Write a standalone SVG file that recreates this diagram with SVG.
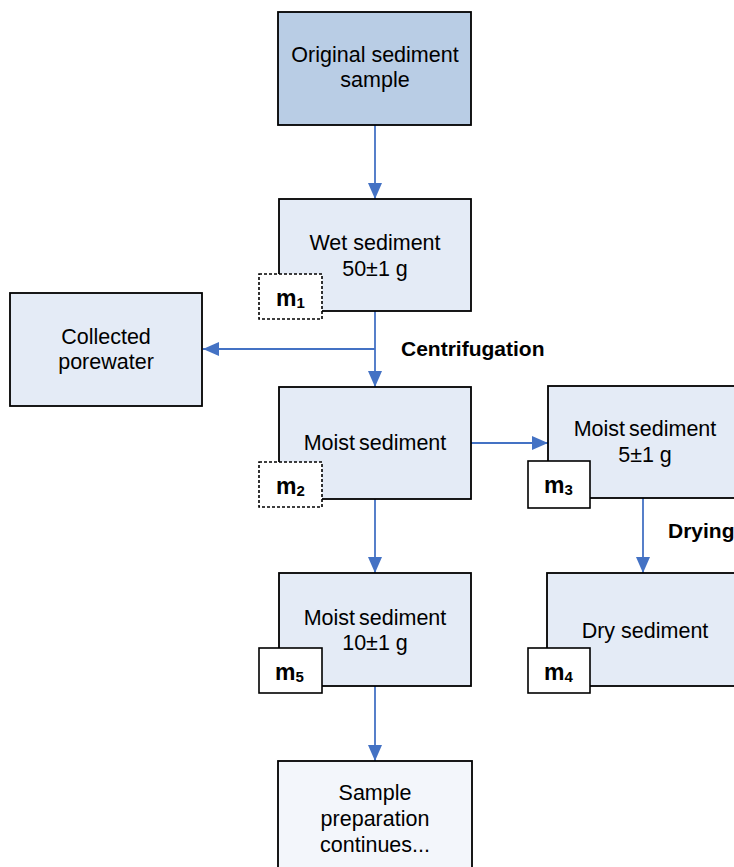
<svg xmlns="http://www.w3.org/2000/svg" width="734" height="867" viewBox="0 0 734 867">
<style>
.box{stroke:#000;stroke-width:1.8;fill:#e4ebf6}
.top{fill:#b9cde5}
.light{fill:#f3f6fb}
.mb{fill:#fff;stroke:#000;stroke-width:1.6}
.dash{stroke-dasharray:3 2}
.t{font-family:"Liberation Sans",Arial,sans-serif;font-size:21.5px;fill:#000;text-anchor:middle}
.ws{word-spacing:-2px}
.b{font-family:"Liberation Sans",Arial,sans-serif;font-size:21px;font-weight:bold;fill:#000}
.m{font-size:23px}
.sub{font-size:15px}
.c{stroke:#4472c4;stroke-width:1.8;fill:none;marker-end:url(#ah)}
</style>
<defs>
<marker id="ah" markerUnits="userSpaceOnUse" markerWidth="16" markerHeight="14" viewBox="0 0 16 14" refX="16" refY="7" orient="auto">
<path d="M0,0 L16,7 L0,14 z" fill="#4472c4"/>
</marker>
</defs>
<rect width="734" height="867" fill="#fff"/>
<g id="connectors">
<line class="c" x1="375" y1="125" x2="375" y2="199"/>
<line class="c" x1="375" y1="311" x2="375" y2="387"/>
<line class="c" x1="375" y1="349" x2="203" y2="349"/>
<line class="c" x1="471" y1="443" x2="548" y2="443"/>
<line class="c" x1="375" y1="499" x2="375" y2="573"/>
<line class="c" x1="643" y1="498" x2="643" y2="573"/>
<line class="c" x1="375" y1="686" x2="375" y2="761"/>
<text class="b" x="401" y="356">Centrifugation</text>
<text class="b" x="668" y="538">Drying</text>
</g>
<g id="original">
<rect class="box top" x="278" y="12" width="193" height="113"/>
<text class="t" x="375" y="62">Original sediment</text>
<text class="t" x="375" y="87">sample</text>
</g>
<g id="wet">
<rect class="box" x="279" y="199" width="192" height="112"/>
<text class="t" x="375" y="250">Wet sediment</text>
<text class="t" x="375" y="276">50±1 g</text>
</g>
<g id="m1">
<rect class="mb dash" x="259" y="274" width="63" height="45"/>
<text class="b m" x="276" y="306">m<tspan class="sub" dy="2">1</tspan></text>
</g>
<g id="porewater">
<rect class="box" x="10" y="293" width="192" height="113"/>
<text class="t" x="106" y="344">Collected</text>
<text class="t" x="106" y="369">porewater</text>
</g>
<g id="moist">
<rect class="box" x="279" y="387" width="192" height="112"/>
<text class="t ws" x="375" y="450">Moist sediment</text>
</g>
<g id="m2">
<rect class="mb dash" x="259" y="462" width="63" height="45"/>
<text class="b m" x="276" y="494">m<tspan class="sub" dy="2">2</tspan></text>
</g>
<g id="moist5">
<rect class="box" x="548" y="386" width="194" height="112"/>
<text class="t ws" x="645" y="436">Moist sediment</text>
<text class="t" x="645" y="462">5±1 g</text>
</g>
<g id="m3">
<rect class="mb" x="528" y="461" width="62" height="47"/>
<text class="b m" x="544" y="493">m<tspan class="sub" dy="2">3</tspan></text>
</g>
<g id="moist10">
<rect class="box" x="279" y="573" width="192" height="113"/>
<text class="t ws" x="375" y="625">Moist sediment</text>
<text class="t" x="375" y="650">10±1 g</text>
</g>
<g id="m5">
<rect class="mb" x="259" y="648" width="63" height="45"/>
<text class="b m" x="275" y="680">m<tspan class="sub" dy="2">5</tspan></text>
</g>
<g id="dry">
<rect class="box" x="547" y="573" width="195" height="113"/>
<text class="t" x="645" y="638">Dry sediment</text>
</g>
<g id="m4">
<rect class="mb" x="528" y="648" width="62" height="45"/>
<text class="b m" x="544" y="680">m<tspan class="sub" dy="2">4</tspan></text>
</g>
<g id="sample">
<rect class="box light" x="278" y="761" width="194" height="120"/>
<text class="t" x="375" y="800">Sample</text>
<text class="t" x="375" y="826">preparation</text>
<text class="t" x="375" y="852">continues...</text>
</g>
</svg>
